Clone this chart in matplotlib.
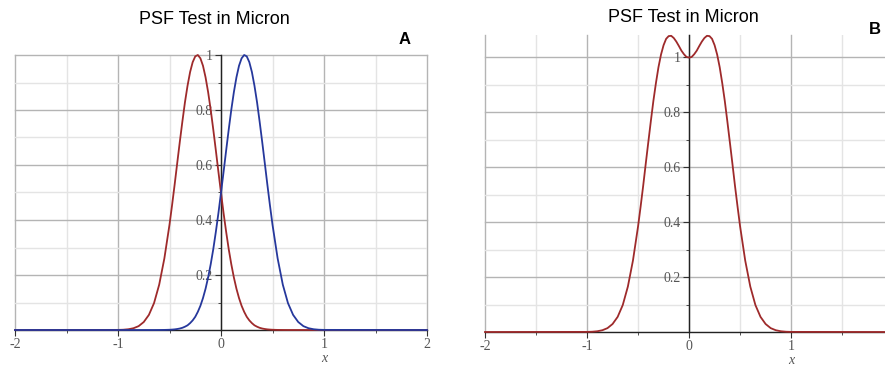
import matplotlib
matplotlib.use("Agg")
import matplotlib.pyplot as plt
from matplotlib.ticker import MultipleLocator, FixedLocator

# sample positions (micron), denser around the peaks
x_pts = [-2.0, -1.0, -0.95, -0.9, -0.85, -0.8, -0.75, -0.7, -0.65, -0.6, -0.55, -0.5,
         -0.475, -0.45, -0.425, -0.4, -0.375, -0.35, -0.325, -0.3, -0.275, -0.25,
         -0.225, -0.2, -0.175, -0.15, -0.125, -0.1, -0.075, -0.05, -0.025, 0.0,
         0.025, 0.05, 0.075, 0.1, 0.125, 0.15, 0.175, 0.2, 0.225, 0.25,
         0.275, 0.3, 0.325, 0.35, 0.375, 0.4, 0.425, 0.45, 0.475,
         0.5, 0.55, 0.6, 0.65, 0.7, 0.75, 0.8, 0.85, 0.9, 0.95, 1.0, 2.0]

# panel A: left-shifted PSF (red) and right-shifted PSF (blue)
red_a = [0.0,
         0.0004, 0.001, 0.0027, 0.0064, 0.014, 0.029, 0.055, 0.098, 0.165, 0.260, 0.383,
         0.454, 0.529, 0.607, 0.684, 0.758, 0.828, 0.888, 0.938, 0.974, 0.995,
         1.000, 0.988, 0.961, 0.919, 0.865, 0.801, 0.729, 0.653, 0.575, 0.499,
         0.425, 0.357, 0.294, 0.239, 0.191, 0.150, 0.116, 0.088, 0.066, 0.048,
         0.035, 0.025, 0.017, 0.012, 0.008, 0.0054, 0.0036, 0.0023, 0.0015,
         0.0009, 0.0003, 0.0001, 0.0, 0.0, 0.0, 0.0, 0.0, 0.0, 0.0, 0.0, 0.0]
blue_a = [0.0,
          0.0, 0.0, 0.0, 0.0, 0.0, 0.0, 0.0, 0.0, 0.0001, 0.0003, 0.0009,
          0.0015, 0.0023, 0.0036, 0.0054, 0.008, 0.012, 0.017, 0.025, 0.035, 0.048,
          0.066, 0.088, 0.116, 0.150, 0.191, 0.239, 0.294, 0.357, 0.425, 0.499,
          0.575, 0.653, 0.729, 0.801, 0.865, 0.919, 0.961, 0.988, 1.000, 0.995,
          0.974, 0.938, 0.888, 0.828, 0.758, 0.684, 0.607, 0.529, 0.454,
          0.383, 0.260, 0.165, 0.098, 0.055, 0.029, 0.014, 0.0064, 0.0027, 0.001, 0.0004, 0.0]

# panel B: combined profile with two humps
red_b = [0.0,
         0.0004, 0.001, 0.0027, 0.0064, 0.014, 0.029, 0.055, 0.098, 0.165, 0.260, 0.384,
         0.456, 0.531, 0.611, 0.689, 0.766, 0.840, 0.905, 0.963, 1.009, 1.043,
         1.066, 1.076, 1.077, 1.069, 1.056, 1.040, 1.023, 1.010, 1.000, 0.998,
         1.000, 1.010, 1.023, 1.040, 1.056, 1.069, 1.077, 1.076, 1.066, 1.043,
         1.009, 0.963, 0.905, 0.840, 0.766, 0.689, 0.611, 0.531, 0.456,
         0.384, 0.260, 0.165, 0.098, 0.055, 0.029, 0.014, 0.0064, 0.0027, 0.001, 0.0004, 0.0]

x_ticks = [-2, -1, 0, 1, 2]
y_ticks = [0.2, 0.4, 0.6, 0.8, 1.0]
y_labels = ["0.2", "0.4", "0.6", "0.8", "1"]

RED = "#9e2a2b"
BLUE = "#26389c"
TICK_FONT = "Liberation Serif"

W, H = 885, 365
fig = plt.figure(figsize=(W / 100, H / 100), dpi=100)


def style_axes(ax, xmax, ymax):
    ax.set_xlim(-2, xmax)
    ax.set_ylim(0, ymax)
    for s in ("top", "right"):
        ax.spines[s].set_visible(False)
    ax.spines["left"].set_position(("data", 0))
    ax.spines["bottom"].set_position(("data", 0))
    for s in ("left", "bottom"):
        ax.spines[s].set_color("#222222")
        ax.spines[s].set_linewidth(1.0)
        ax.spines[s].set_zorder(3)

    ax.xaxis.set_major_locator(FixedLocator([t for t in x_ticks if t <= xmax]))
    ax.xaxis.set_minor_locator(MultipleLocator(0.5))
    ax.yaxis.set_major_locator(FixedLocator(y_ticks))
    ax.yaxis.set_minor_locator(MultipleLocator(0.1))
    ax.set_xticklabels([str(t) for t in x_ticks if t <= xmax])
    ax.set_yticklabels(y_labels)

    ax.tick_params(which="major", length=4, width=0.8, color="#333333",
                   labelsize=10, labelcolor="#555555", pad=2)
    ax.tick_params(which="minor", length=2, width=0.6, color="#333333")
    for lab in ax.get_xticklabels() + ax.get_yticklabels():
        lab.set_fontfamily(TICK_FONT)

    ax.grid(which="major", color="#b4b4b4", linewidth=1.0)
    ax.grid(which="minor", color="#e4e4e4", linewidth=1.0)
    for ln in ax.get_xgridlines() + ax.get_ygridlines():
        ln.set_clip_on(False)
    ax.set_axisbelow(True)
    ax.set_facecolor("white")

    ax.annotate("x", xy=(1, 0), xycoords="data", xytext=(0, -28),
                textcoords="offset pixels", ha="center", va="center",
                fontsize=10, fontstyle="italic", family=TICK_FONT, color="#555555")


# ---- panel A ----
axA = fig.add_axes([15 / W, (H - 330) / H, 412 / W, 275 / H])
style_axes(axA, 2.0, 1.0)
axA.plot(x_pts, red_a, color=RED, lw=1.3, zorder=4, clip_on=False)
axA.plot(x_pts, blue_a, color=BLUE, lw=1.3, zorder=4, clip_on=False)
fig.text(214 / W, (H - 20) / H, "PSF Test in Micron", ha="center", va="center",
         fontsize=13, family="Liberation Sans")
fig.text(405 / W, (H - 39) / H, "A", ha="center", va="center",
         fontsize=12, fontweight="bold", family="Liberation Sans")

# ---- panel B ----
axB = fig.add_axes([485 / W, (H - 332) / H, 400 / W, 297 / H])
style_axes(axB, 1.92, 1.08)
axB.plot(x_pts, red_b, color=RED, lw=1.3, zorder=4, clip_on=False)
fig.text(683 / W, (H - 17) / H, "PSF Test in Micron", ha="center", va="center",
         fontsize=13, family="Liberation Sans")
fig.text(875 / W, (H - 29) / H, "B", ha="center", va="center",
         fontsize=12, fontweight="bold", family="Liberation Sans")

fig.savefig("out.png", dpi=100)
